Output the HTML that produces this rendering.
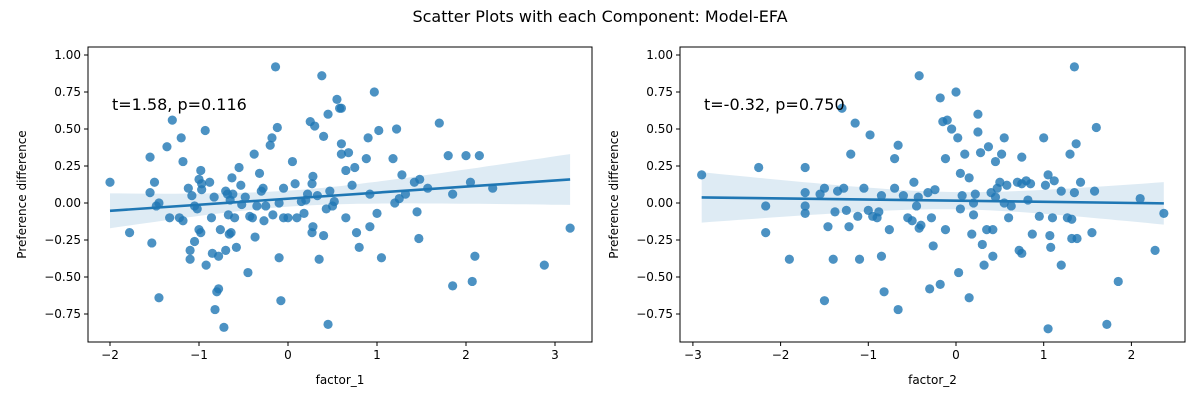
<!DOCTYPE html>
<html><head><meta charset="utf-8"><style>
body{margin:0;background:#fff;}
svg text{font-family:"DejaVu Sans","Liberation Sans",sans-serif;fill:#000;}
</style></head><body>
<svg id="fig" width="1200" height="400" xmlns="http://www.w3.org/2000/svg">
<rect width="1200" height="400" fill="#fff"/>
<text x="600" y="22" font-size="16" text-anchor="middle">Scatter Plots with each Component: Model-EFA</text>
</svg>
<script>
const xTicks1 = [-2,-1,0,1,2,3];
const xTicks2 = [-3,-2,-1,0,1,2];
const yTicks = [1.00,0.75,0.50,0.25,0.00,-0.25,-0.50,-0.75];
const factor1X = [-2.0,-1.78,-1.55,-1.55,-1.53,-1.5,-1.48,-1.45,-1.45,-1.36,-1.33,-1.3,-1.22,-1.2,-1.18,-1.18,-1.12,-1.1,-1.1,-1.08,-1.05,-1.05,-1.02,-1.0,-1.0,-0.98,-0.97,-0.97,-0.98,-0.93,-0.92,-0.88,-0.86,-0.85,-0.83,-0.82,-0.8,-0.78,-0.78,-0.76,-0.72,-0.7,-0.7,-0.68,-0.67,-0.66,-0.65,-0.64,-0.63,-0.62,-0.6,-0.58,-0.55,-0.53,-0.52,-0.48,-0.45,-0.43,-0.4,-0.38,-0.37,-0.35,-0.32,-0.3,-0.28,-0.27,-0.25,-0.2,-0.18,-0.17,-0.14,-0.12,-0.1,-0.1,-0.08,-0.05,-0.05,0.0,0.05,0.08,0.1,0.15,0.18,0.2,0.22,0.25,0.27,0.27,0.28,0.3,0.28,0.33,0.35,0.38,0.4,0.4,0.43,0.45,0.45,0.47,0.5,0.52,0.55,0.58,0.6,0.6,0.6,0.65,0.65,0.68,0.72,0.75,0.77,0.8,0.88,0.9,0.92,0.92,0.97,1.0,1.02,1.05,1.18,1.2,1.22,1.25,1.28,1.32,1.42,1.45,1.48,1.47,1.57,1.7,1.8,1.85,1.85,2.0,2.05,2.07,2.1,2.15,2.3,2.88,3.17];
const factor1Y = [0.14,-0.2,0.31,0.07,-0.27,0.14,-0.02,0.0,-0.64,0.38,-0.1,0.56,-0.1,0.44,-0.12,0.28,0.1,-0.32,-0.38,0.05,-0.02,-0.26,-0.04,0.16,-0.18,0.22,0.13,0.09,-0.2,0.49,-0.42,0.14,-0.1,-0.34,0.04,-0.72,-0.6,-0.58,-0.36,-0.18,-0.84,0.08,-0.32,0.06,-0.08,-0.21,0.02,-0.2,0.17,0.06,-0.1,-0.3,0.24,0.12,-0.01,0.04,-0.47,-0.09,-0.1,0.33,-0.23,-0.02,0.2,0.08,0.1,-0.12,-0.02,0.39,0.44,-0.08,0.92,0.51,-0.37,0.0,-0.66,-0.1,0.1,-0.1,0.28,0.13,-0.1,0.01,-0.07,0.02,0.06,0.55,0.13,-0.2,-0.16,0.52,0.18,0.05,-0.38,0.86,0.45,-0.22,-0.04,0.6,-0.82,0.08,-0.02,0.01,0.7,0.64,0.64,0.33,0.4,-0.1,0.22,0.34,0.12,0.24,-0.2,-0.3,0.3,0.44,-0.16,0.06,0.75,-0.07,0.49,-0.37,0.3,0.0,0.5,0.03,0.19,0.06,0.14,-0.06,0.16,-0.24,0.1,0.54,0.32,0.06,-0.56,0.32,0.14,-0.53,-0.36,0.32,0.1,-0.42,-0.17];
const factor2X = [-2.9,-2.25,-2.17,-2.17,-1.9,-1.72,-1.72,-1.72,-1.72,-1.55,-1.5,-1.5,-1.46,-1.4,-1.38,-1.35,-1.3,-1.28,-1.25,-1.22,-1.2,-1.15,-1.12,-1.1,-1.05,-1.0,-0.98,-0.95,-0.9,-0.88,-0.85,-0.85,-0.82,-0.76,-0.7,-0.7,-0.66,-0.66,-0.6,-0.55,-0.5,-0.48,-0.45,-0.43,-0.42,-0.4,-0.32,-0.3,-0.28,-0.26,-0.24,-0.18,-0.15,-0.12,-0.12,-0.1,-0.05,0.0,0.05,0.05,0.07,0.1,0.15,0.18,0.2,0.22,0.25,0.25,0.28,0.3,0.32,0.35,0.37,0.4,0.42,0.45,0.47,0.45,0.5,0.52,0.55,0.55,0.58,0.6,0.63,0.7,0.72,0.75,0.75,0.8,0.82,0.85,0.87,0.95,1.0,1.02,1.05,1.07,1.08,1.1,1.12,1.2,1.2,1.27,1.3,1.32,1.32,1.35,1.37,1.38,1.42,1.55,1.58,1.6,1.72,1.85,2.1,2.27,2.37,1.05,0.75,1.35,-0.42,0.03,0.15,-0.18,0.42,0.2,0.02];
const factor2Y = [0.19,0.24,-0.02,-0.2,-0.38,0.24,0.07,-0.07,-0.02,0.06,0.1,-0.66,-0.16,-0.38,-0.06,0.08,0.64,0.1,-0.05,-0.16,0.33,0.54,-0.09,-0.38,0.1,-0.05,0.46,-0.09,-0.1,-0.06,0.05,-0.36,-0.6,-0.18,0.3,0.1,0.39,-0.72,0.05,-0.1,-0.12,0.14,-0.02,0.04,-0.17,-0.15,0.07,-0.58,-0.1,-0.29,0.09,0.71,0.55,0.3,-0.18,0.56,0.5,0.75,0.2,-0.04,0.05,0.33,0.17,-0.21,-0.08,0.06,0.48,0.6,0.34,-0.28,-0.42,-0.18,0.38,0.07,-0.36,0.04,0.1,0.28,0.14,0.33,0.44,0.0,0.12,-0.1,-0.02,0.14,-0.32,0.31,-0.34,0.15,0.02,0.13,-0.21,-0.09,0.44,0.12,0.19,-0.22,-0.3,-0.1,0.15,0.08,-0.42,-0.1,0.33,-0.24,-0.11,0.07,0.4,-0.24,0.14,-0.2,0.08,0.51,-0.82,-0.53,0.03,-0.32,-0.07,-0.85,0.13,0.92,0.86,-0.47,-0.64,-0.55,-0.18,0.0,0.44];

const NS='http://www.w3.org/2000/svg';
const svg=document.getElementById('fig');
function mk(tag,attrs,parent){const e=document.createElementNS(NS,tag);for(const k in attrs)e.setAttribute(k,attrs[k]);(parent||svg).appendChild(e);return e;}

function panel(opt){
  const L=opt.left,R=opt.right,T=47,B=342;
  const sx=v=>opt.x0+opt.kx*v;
  const sy=v=>203-148*v;
  const g=mk('g',{});
  
  
  mk('rect',{x:L,y:T,width:R-L,height:B-T,fill:'#fff'},g);
  // regression
  const xs=opt.xs,ys=opt.ys,n=xs.length;
  let mx=0,my=0;for(let i=0;i<n;i++){mx+=xs[i];my+=ys[i];}mx/=n;my/=n;
  let sxx=0,sxy=0;for(let i=0;i<n;i++){sxx+=(xs[i]-mx)**2;sxy+=(xs[i]-mx)*(ys[i]-my);}
  const b=sxy/sxx,a=my-b*mx;
  let sse=0;for(let i=0;i<n;i++){sse+=(ys[i]-a-b*xs[i])**2;}
  const s=Math.sqrt(sse/(n-2));
  const xmin=Math.min(...xs),xmax=Math.max(...xs);
  const up=[],lo=[];
  for(let k=0;k<=50;k++){const x=xmin+(xmax-xmin)*k/50;const yh=a+b*x;const se=1.98*s*Math.sqrt(1/n+(x-mx)**2/sxx);up.push(sx(x).toFixed(1)+','+sy(yh+se).toFixed(1));lo.unshift(sx(x).toFixed(1)+','+sy(yh-se).toFixed(1));}
  const band=mk('polygon',{points:up.concat(lo).join(' '),fill:'#1f77b4','fill-opacity':0.15},g);
  
  
  for(let i=0;i<n;i++){
    const c=mk('circle',{cx:sx(xs[i]),cy:sy(ys[i]),r:4.6,fill:'#1f77b4','fill-opacity':0.8},g);
    
    
  }
  const ln=mk('line',{x1:sx(xmin),y1:sy(a+b*xmin),x2:sx(xmax),y2:sy(a+b*xmax),stroke:'#1f77b4','stroke-width':2.6},g);
  
  
  mk('rect',{x:L,y:T,width:R-L,height:B-T,fill:'none',stroke:'#000','stroke-width':1},g);
  opt.xt.forEach(v=>{const x=sx(v);mk('line',{x1:x,y1:B,x2:x,y2:B+4,stroke:'#000'},g);
    const t=mk('text',{x:x,y:B+17,'font-size':12,'text-anchor':'middle'},g);t.textContent=(v<0?'\u2212':'')+Math.abs(v);
    
    });
  yTicks.forEach(v=>{const y=sy(v);mk('line',{x1:L-4,y1:y,x2:L,y2:y,stroke:'#000'},g);
    const t=mk('text',{x:L-7,y:y+4,'font-size':12,'text-anchor':'end'},g);t.textContent=(v<0?'\u2212':'')+Math.abs(v).toFixed(2);
    
    });
  const xl=mk('text',{x:(L+R)/2,y:384,'font-size':12,'text-anchor':'middle'},g);xl.textContent=opt.xlabel;
  
  
  const yl=mk('text',{x:0,y:0,'font-size':12,'text-anchor':'middle',transform:`translate(${L-62},${(T+B)/2}) rotate(-90)`},g);yl.textContent='Preference difference';
  
  
  const an=mk('text',{x:L+24,y:110,'font-size':16},g);an.textContent=opt.annot;
  
  
}
panel({name:'factor-1-panel',left:88,right:592,x0:288,kx:89,xs:factor1X,ys:factor1Y,xt:xTicks1,xlabel:'factor_1',annot:'t=1.58, p=0.116'});
panel({name:'factor-2-panel',left:680,right:1185,x0:956,kx:87.7,xs:factor2X,ys:factor2Y,xt:xTicks2,xlabel:'factor_2',annot:'t=-0.32, p=0.750'});
</script>
</body></html>
